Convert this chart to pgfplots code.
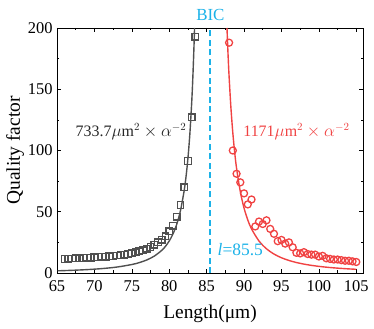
\documentclass[border=0pt]{standalone}
\usepackage{fontspec}
\setmainfont{Liberation Serif}
\usepackage{pgfplots}
\pgfplotsset{compat=1.18}
\definecolor{qgray}{RGB}{80,80,80}
\definecolor{qred}{RGB}{240,66,66}
\definecolor{bic}{RGB}{28,178,232}

\begin{document}
\begin{tikzpicture}
\useasboundingbox (-57bp,-56bp) rectangle (317bp,273bp);
\begin{axis}[
  at={(0,0)}, anchor=south west,
  scale only axis, width=306bp, height=245bp,
  xmin=65, xmax=105.9, ymin=0, ymax=200,
  xtick={65,70,...,105}, ytick={0,50,...,200},
  minor tick num=1,
  tick align=inside, tick pos=both,
  major tick length=4bp, minor tick length=2.5bp,
  axis line style={black, line width=0.8pt},
  every tick/.style={black, line width=0.6pt},
  ticklabel style={font=\fontsize{16.5}{16.5}\selectfont},
  xticklabel style={yshift=-4bp},
  yticklabel style={xshift=-1bp},
  /pgf/number format/assume math mode=true,
  xlabel={Length(μm)}, ylabel={Quality factor},
  label style={font=\fontsize{19.5}{19.5}\selectfont},
  xlabel style={at={(axis description cs:0.5,-0.165)}, anchor=center},
  ylabel style={at={(axis description cs:-0.137,0.5)}, anchor=center},
  clip=false,
]

% BIC position
\addplot[bic, line width=1.8pt, dash pattern=on 6pt off 3.5pt] coordinates {(85.5,0) (85.5,200)};

% fitted curves
\addplot[qgray, line width=1.4pt, smooth] coordinates {
  (65.1,1.80) (67,2.19) (69,2.76) (71,3.59) (73,4.85) (75,6.92) (76,8.48)
  (77,10.65) (78,13.77) (79,18.49) (79.5,21.81) (80,26.12) (80.5,31.84)
  (81,39.68) (81.5,50.81) (82,67.37) (82.25,78.87) (82.5,93.58)
  (82.75,112.83) (83,138.7) (83.15,158.7) (83.3,183.4) (83.385,200)
};
\addplot[qred, line width=1.4pt, smooth] coordinates {
  (87.72,200) (87.85,180.1) (88,160.6) (88.25,134.6) (88.5,114.4)
  (88.75,98.4) (89,85.5) (89.5,66.4) (90,53.0) (90.5,43.3) (91,36.0)
  (92,26.1) (93,19.75) (94,15.47) (95,12.45) (96,10.23) (97,8.55)
  (98,7.26) (99,6.24) (100,5.42) (101,4.75) (102,4.20) (103,3.74)
  (104,3.35) (105,3.02)
};

% measured Q
\addplot[only marks, qgray, mark=square, mark size=3.3bp, mark options={line width=1.3pt}] coordinates {
  (66,11.5) (66.5,11.6) (67,11.8) (67.5,11.9) (68,12.1) (68.5,12.2)
  (69,12.4) (69.5,12.6) (70,12.8) (70.5,13.0) (71,13.2) (71.5,13.4)
  (72,13.7) (72.5,14.0) (73,14.3) (73.5,14.6) (74,15.0) (74.5,15.5)
  (75,16.1) (75.5,16.8) (76,17.6) (76.5,18.6) (77,19.8) (77.5,21.3)
  (78,23.0) (78.5,25.0) (79,27.2) (79.5,30.0) (80,34.0) (80.5,38.5)
  (81,46.0) (81.5,55.5) (82,70.0) (82.5,91.5) (83,127) (83.5,193)
};
\addplot[only marks, qred, mark=o, mark size=3.5bp, mark options={line width=1.3pt}] coordinates {
  (88,188) (88.5,100) (89,81) (89.5,74) (90,65) (90.5,56) (91,60)
  (91.5,38) (92,42) (92.5,40) (93,43) (93.5,36) (94,32) (94.5,26)
  (95,27) (95.5,24) (96,25) (96.5,21) (97,16.5) (97.5,16) (98,17)
  (98.5,15.5) (99,15) (99.5,15) (100,13.5) (100.5,14) (101,12)
  (101.5,11.5) (102,11) (102.5,11) (103,10.5) (103.5,10) (104,10)
  (104.5,9.5) (105,9)
};

\node[text=bic, font=\fontsize{17}{17}\selectfont, anchor=center, yshift=13bp] at (axis cs:85.5,200) {BIC};
\node[text=bic, font=\fontsize{17.5}{17.5}\selectfont, anchor=center] at (axis cs:89.5,19) {\textit{l}=85.5};
\node[text=black!85, font=\fontsize{16}{16}\selectfont, anchor=center] at (axis cs:74.9,115.3) {733.7$\mu$m$^2\times\alpha^{-2}$};
\node[text=qred, font=\fontsize{16}{16}\selectfont, anchor=center] at (axis cs:97.0,115.3) {1171$\mu$m$^2\times\alpha^{-2}$};
\end{axis}
\end{tikzpicture}
\end{document}
